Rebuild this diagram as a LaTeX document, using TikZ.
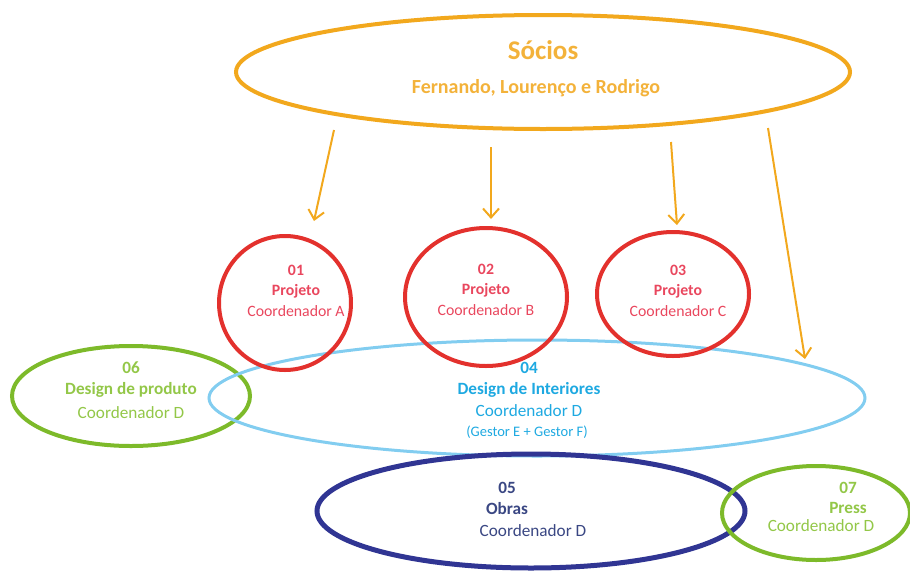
\documentclass[tikz,border=0pt]{standalone}
\usepackage{fontspec}
\setmainfont{Carlito}
\usetikzlibrary{shapes.geometric,arrows.meta}
\definecolor{socOrange}{HTML}{F2A81D}
\definecolor{socText}{HTML}{F3B23A}
\definecolor{projRed}{HTML}{E3312D}
\definecolor{projText}{HTML}{E9475E}
\definecolor{intBlue}{HTML}{82CDF0}
\definecolor{intText}{HTML}{1EA9E1}
\definecolor{prodGreen}{HTML}{7DBA2A}
\definecolor{prodText}{HTML}{93C748}
\definecolor{obrasBlue}{HTML}{303593}
\definecolor{obrasText}{HTML}{3A4783}
\tikzset{
  oval/.style={ellipse, draw, inner sep=0pt, line width=#1},
  oval/.default=4pt,
  lbl/.style={align=center, font=\fontsize{17.2}{22}\selectfont},
  plbl/.style={align=center, font=\fontsize{15.8}{22}\selectfont},
  link/.style={draw=socOrange, line width=2pt,
    -{Straight Barb[length=9pt,width=16pt,line width=2pt]}}
}
\begin{document}
\begin{tikzpicture}[x=1pt,y=-1pt]
\useasboundingbox (0,0) rectangle (910,576);

% partners
\node[oval=4pt, draw=socOrange, minimum width=614pt, minimum height=114pt] (soc) at (543,72) {};
\node[font=\fontsize{27}{30}\selectfont\bfseries, text=socText] (socT) at (543,50) {Sócios};
\node[font=\fontsize{20}{22}\selectfont\bfseries, text=socText] (socN) at (536,88) {Fernando, Lourenço e Rodrigo};

% departments (drawing order gives the overlaps)
\node[oval=4pt, draw=prodGreen, minimum width=238pt, minimum height=100pt] (d6) at (131,396) {};
\node[oval=3pt, draw=intBlue, minimum width=656pt, minimum height=116pt] (d4) at (537,398) {};
\node[oval=4pt, draw=projRed, minimum width=132pt, minimum height=134pt] (d1) at (285,303) {};
\node[oval=4pt, draw=projRed, minimum width=162pt, minimum height=138pt] (d2) at (486,297) {};
\node[oval=4pt, draw=projRed, minimum width=152pt, minimum height=124pt] (d3) at (673,294) {};
\node[oval=5pt, draw=obrasBlue, minimum width=428pt, minimum height=114pt] (d5) at (531,511) {};
\node[oval=4pt, draw=prodGreen, minimum width=188pt, minimum height=94pt] (d7) at (816,513) {};

% labels
\node[plbl, text=projText] (t1) at (296,291) {\textbf{01}\\[-2pt]\textbf{Projeto}\\[-1pt]Coordenador A};
\node[plbl, text=projText] (t2) at (486,290) {\textbf{02}\\[-2pt]\textbf{Projeto}\\[-1pt]Coordenador B};
\node[plbl, text=projText] (t3) at (678,291) {\textbf{03}\\[-2pt]\textbf{Projeto}\\[-1pt]Coordenador C};
\node[lbl, text=intText] (t4) at (529,389) {\textbf{04}\\[-1pt]\textbf{Design de Interiores}\\[0pt]Coordenador D};
\node[text=intText, font=\fontsize{14.5}{16}\selectfont] (t4g) at (527,432) {(Gestor E + Gestor F)};
\node[lbl, text=prodText] (t6) at (131,390) {\textbf{06}\\[-1pt]\textbf{Design de produto}\\[2pt]Coordenador D};
\node[lbl, text=obrasText] (t5) at (507,509) {\textbf{05}\\[-1pt]\textbf{Obras}\\[0pt]\hspace*{52pt}Coordenador D};
\node[lbl, text=prodText] (t7) at (848,507) {\textbf{07}\\[-2pt]\textbf{Press}\\[-4pt]Coordenador D\hspace*{54pt}};

% reporting arrows
\coordinate (a1s) at (334,130); \coordinate (a1e) at (314,221);
\coordinate (a2s) at (491,147); \coordinate (a2e) at (491,219);
\coordinate (a3s) at (671,142); \coordinate (a3e) at (677,225);
\coordinate (a4s) at (768,128); \coordinate (a4e) at (805,359);
\draw[link] (a1s) -- (a1e);
\draw[link] (a2s) -- (a2e);
\draw[link] (a3s) -- (a3e);
\draw[link] (a4s) -- (a4e);
\end{tikzpicture}
\end{document}
